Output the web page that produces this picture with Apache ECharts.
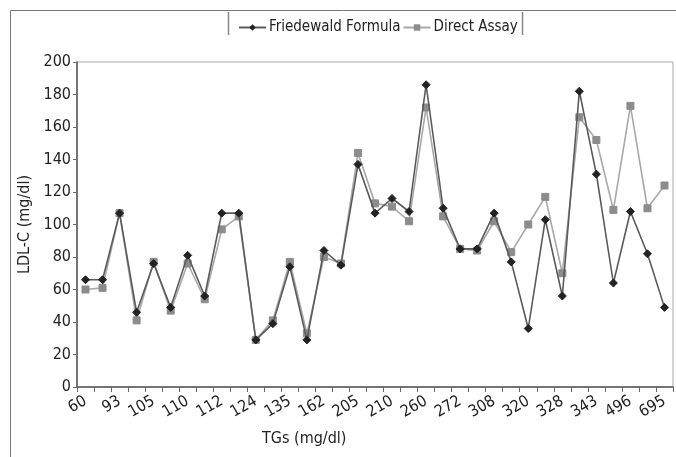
<!DOCTYPE html>
<html>
<head>
<meta charset="utf-8">
<script src="https://cdn.jsdelivr.net/npm/echarts@6/dist/echarts.min.js"></script>
<style>
html,body{margin:0;padding:0;background:#fff;}
#chart{width:676px;height:457px;}
</style>
</head>
<body>
<div id="chart"></div>
<script>
// TG tick labels (shown on every other category)
var tgLabels = ['60','93','105','110','112','124','135','162','205','210','260','272','308','320','328','343','496','695'];
// 35 patients (categories)
var categories = [];
for (var i = 0; i < 35; i++) { categories.push('P' + (i + 1)); }
var friedewald = [66,66,107,46,76,49,81,56,107,107,29,39,74,29,84,75,137,107,116,108,186,110,85,85,107,77,36,103,56,182,131,64,108,82,49];
var directAssay = [60,61,107,41,77,47,76,54,97,105,29,41,77,33,80,76,144,113,111,102,172,105,85,84,102,83,100,117,70,166,152,109,173,110,124];

var FONT = '"Liberation Sans Narrow","Arial Narrow","DejaVu Sans Condensed",sans-serif';
var chart = echarts.init(document.getElementById('chart'), null, {renderer: 'canvas'});
chart.setOption({
  animation: false,
  backgroundColor: '#fff',
  textStyle: {fontFamily: FONT},
  graphic: [
    {type: 'polyline', shape: {points: [[10.5, 457], [10.5, 10.5], [676, 10.5]]}, style: {stroke: '#777', lineWidth: 1, fill: null}},
    {type: 'line', shape: {x1: 228.5, y1: 12, x2: 228.5, y2: 35}, style: {stroke: '#888', lineWidth: 1.5}},
    {type: 'line', shape: {x1: 522.5, y1: 12, x2: 522.5, y2: 35}, style: {stroke: '#888', lineWidth: 1.5}},
    {type: 'text', left: 262, top: 431, style: {text: 'TGs (mg/dl)', font: '16px ' + FONT, fill: '#222'}}
  ],
  legend: {
    left: 233, top: 15,
    itemWidth: 27, itemHeight: 8, itemGap: 2,
    textStyle: {fontSize: 15, color: '#222', fontFamily: FONT, padding: [0, 0, 0, -2]},
    data: ['Friedewald Formula', 'Direct Assay']
  },
  grid: {left: 77, right: 3, top: 62, bottom: 70, show: true, borderColor: '#aaaaaa', borderWidth: 1},
  xAxis: {
    type: 'category',
    data: categories,
    boundaryGap: true,
    axisLine: {lineStyle: {color: '#555', width: 1.5}},
    axisTick: {show: true, interval: 0, length: 5, lineStyle: {color: '#666'}},
    axisLabel: {
      interval: 1, rotate: 30, fontSize: 16, color: '#222', margin: 13, fontFamily: FONT,
      formatter: function (v, idx) { return idx % 2 === 0 ? tgLabels[idx / 2] : ''; }
    },
    splitLine: {show: false}
  },
  yAxis: {
    type: 'value', min: 0, max: 200, interval: 20,
    name: 'LDL-C (mg/dl)', nameLocation: 'middle', nameGap: 40, nameRotate: 90,
    nameTextStyle: {fontSize: 16, color: '#222', fontFamily: FONT},
    axisLine: {show: true, lineStyle: {color: '#555', width: 1.5}},
    axisTick: {show: true, length: 4, lineStyle: {color: '#666'}},
    axisLabel: {fontSize: 16, color: '#222', margin: 6, fontFamily: FONT},
    splitLine: {show: false}
  },
  series: [
    {
      name: 'Friedewald Formula', type: 'line', data: friedewald,
      symbol: 'diamond', symbolSize: 8,
      lineStyle: {color: '#5a5a5a', width: 1.6},
      itemStyle: {color: '#222', borderColor: '#222'},
      z: 3
    },
    {
      name: 'Direct Assay', type: 'line', data: directAssay,
      symbol: 'rect', symbolSize: 7,
      lineStyle: {color: '#a8a8a8', width: 1.6},
      itemStyle: {color: '#8c8c8c', borderColor: '#8c8c8c'},
      z: 2
    }
  ]
});
</script>
</body>
</html>
